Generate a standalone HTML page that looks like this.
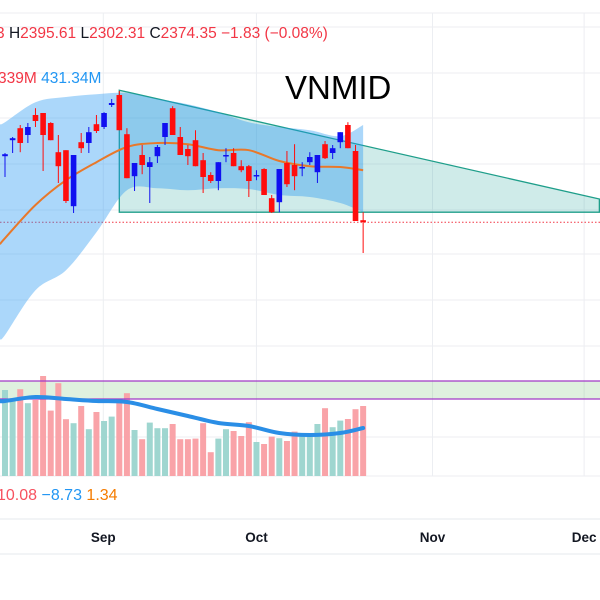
<!DOCTYPE html>
<html><head><meta charset="utf-8">
<style>
html,body{margin:0;padding:0;background:#fff;width:600px;height:600px;overflow:hidden}
svg{display:block}
text{font-family:"Liberation Sans",sans-serif}
</style></head>
<body>
<svg id="chart" width="600" height="600" viewBox="0 0 600 600" xmlns="http://www.w3.org/2000/svg">
<g id="grid"></g>
<g id="triangle"></g>
<g id="bands"></g>
<g id="candles"></g>
<g id="volume"></g>
<text x="-4" y="38" font-size="15.5" fill="#f23645">3 <tspan fill="#131722">H</tspan>2395.61 <tspan fill="#131722">L</tspan>2302.31 <tspan fill="#131722">C</tspan>2374.35 −1.83 (−0.08%)</text>
<text x="-2" y="83" font-size="15.5" fill="#f23645">339M <tspan fill="#2196f3">431.34M</tspan></text>
<text x="285" y="99" font-size="33" fill="#000">VNMID</text>
<text x="-3" y="500" font-size="16" fill="#f7525f">10.08 <tspan fill="#2196f3">−8.73</tspan> <tspan fill="#f57c00">1.34</tspan></text>
<g id="xaxis"></g>
</svg>
<script>
const opens  = [2536,2576,2606,2589,2639,2644,2619,2546,2551,2411,2571,2569,2616,2609,2664,2689,2591,2486,2539,2509,2536,2584,2656,2584,2554,2576,2526,2489,2474,2536,2544,2511,2511,2486,2504,2431,2421,2519,2514,2506,2521,2496,2566,2544,2571,2614,2549,2376];
const highs  = [2544,2584,2614,2619,2656,2644,2621,2589,2551,2539,2594,2609,2639,2646,2679,2699,2606,2519,2564,2534,2564,2619,2661,2609,2564,2601,2544,2496,2521,2556,2556,2526,2514,2501,2506,2439,2504,2549,2566,2521,2546,2539,2574,2564,2596,2621,2564,2396];
const lows   = [2484,2544,2546,2569,2609,2499,2576,2469,2419,2394,2544,2544,2594,2604,2659,2601,2481,2449,2491,2419,2519,2564,2589,2539,2514,2511,2444,2469,2451,2521,2511,2496,2434,2476,2439,2394,2396,2459,2451,2486,2514,2469,2529,2529,2556,2556,2374,2294];
const closes = [2541,2581,2569,2609,2624,2589,2576,2511,2424,2539,2556,2596,2599,2644,2669,2601,2481,2519,2514,2521,2559,2619,2589,2539,2536,2511,2484,2474,2521,2539,2511,2501,2474,2489,2439,2396,2504,2466,2486,2509,2534,2539,2531,2556,2596,2556,2374,2371];
const volumes = [430,389,434,364,380,500,327,464,284,264,350,234,320,275,297,384,414,230,184,267,239,239,260,184,184,187,264,119,187,234,225,200,269,170,160,197,189,175,222,214,214,260,339,244,277,285,334,350];
const bandIdx = [0,4,8,12,16,20,24,28,32,36,40,44,47];
const bbUpper = [2621,2671,2684,2691,2694,2679,2666,2646,2621,2609,2601,2586,2614];
const bbLower = [2089,2201,2251,2346,2451,2456,2451,2456,2454,2439,2434,2419,2396];
const bbBasis = [2331,2414,2476,2521,2559,2569,2566,2551,2551,2524,2511,2509,2501];
const volMA   = [375,395,385,375,370,335,300,265,250,215,205,215,240];
const triTop = [15,2701]; const triRight = [78,2429]; const triBottom = 2396;
const volBandHi = 475, volBandLo = 385;
const timeLabels = ["Sep","Oct","Nov","Dec"];
const timeIdx = [12.9,33,56.1,76];

const NS="http://www.w3.org/2000/svg";
const X = i => 5 + i*7.62;
const Y = p => (2926.5 - p)/2.5;
const VY = v => 476 - v/5;
function mk(tag, attrs, parent){const e=document.createElementNS(NS,tag);for(const k in attrs)e.setAttribute(k,attrs[k]);parent.appendChild(e);return e;}
function smooth(pts){let d="M"+pts[0][0]+","+pts[0][1];for(let i=0;i<pts.length-1;i++){const p0=pts[Math.max(0,i-1)],p1=pts[i],p2=pts[i+1],p3=pts[Math.min(pts.length-1,i+2)];const c1=[p1[0]+(p2[0]-p0[0])/6,p1[1]+(p2[1]-p0[1])/6],c2=[p2[0]-(p3[0]-p1[0])/6,p2[1]-(p3[1]-p1[1])/6];d+=` C${c1[0]},${c1[1]} ${c2[0]},${c2[1]} ${p2[0]},${p2[1]}`;}return d;}

const g=document.getElementById('grid');
[13,27,73,118,164,210,254,300,346,437,476].forEach(y=>{const l=mk('line',{x1:0,x2:600,y1:y,y2:y,stroke:'#eceef2','stroke-width':1},g);});
[519,554].forEach(y=>{const l=mk('line',{x1:0,x2:600,y1:y,y2:y,stroke:'#e6e8ec','stroke-width':1},g);});
timeIdx.forEach(i=>{const l=mk('line',{x1:X(i),x2:X(i),y1:13,y2:476,stroke:'#eceef2','stroke-width':1},g);});

const bg=document.getElementById('bands');
const up=bandIdx.map((i,k)=>[X(i),Y(bbUpper[k])]), lo=bandIdx.map((i,k)=>[X(i),Y(bbLower[k])]);
up.unshift([0,up[0][1]+2]); lo.unshift([0,lo[0][1]+4]);
const loRev=lo.slice().reverse();
const lr=smooth(loRev);
const bf=mk('path',{d:smooth(up)+" L"+loRev[0][0]+","+loRev[0][1]+lr.slice(lr.indexOf(' C'))+"Z",fill:'rgba(33,150,243,0.38)'},bg);

const ma=bandIdx.map((i,k)=>[X(i),Y(bbBasis[k])]); ma.unshift([0,Y(bbBasis[0])+6]);
const mp=mk('path',{d:smooth(ma),fill:'none',stroke:'#e8782a','stroke-width':2},bg);


const tg=document.getElementById('triangle');
const tp=mk('path',{d:`M${X(triTop[0])},${Y(triTop[1])} L${X(triRight[0])},${Y(triRight[1])} L${X(triRight[0])},${Y(triBottom)} L${X(triTop[0])},${Y(triBottom)} Z`,fill:'rgba(38,166,154,0.22)',stroke:'#1e9e8a','stroke-width':1.3},tg);

const last=closes[closes.length-1];
const dl=mk('line',{x1:0,x2:600,y1:Y(last),y2:Y(last),stroke:'#f23645','stroke-width':1,'stroke-dasharray':'1.5,2'},tg);


const cg=document.getElementById('candles');
for(let i=0;i<opens.length;i++){
  const isUp=closes[i]>=opens[i], col=isUp?'#1010f0':'#ff0d0d', x=X(i);
  const w=mk('line',{x1:x,x2:x,y1:Y(highs[i]),y2:Y(lows[i]),stroke:col,'stroke-width':1},cg);
  
  const t=Math.min(Y(opens[i]),Y(closes[i])), h=Math.max(1.5,Math.abs(Y(opens[i])-Y(closes[i])));
  const r=mk('rect',{x:x-2.8,y:t,width:5.6,height:h,fill:col},cg);
  
}

const vg=document.getElementById('volume');
const vb=mk('rect',{x:0,y:VY(volBandHi),width:600,height:VY(volBandLo)-VY(volBandHi),fill:'rgba(76,175,80,0.18)'},vg);

for(let i=0;i<volumes.length;i++){
  const isUp=closes[i]>=opens[i];
  const r=mk('rect',{x:X(i)-3,y:VY(volumes[i]),width:6,height:476-VY(volumes[i]),fill:isUp?'#9fd6d0':'#f9a3a8'},vg);
  
}
[volBandHi,volBandLo].forEach(v=>{const l=mk('line',{x1:0,x2:600,y1:VY(v),y2:VY(v),stroke:'#a23ac8','stroke-width':1.2},vg);});
const vm=bandIdx.map((i,k)=>[X(i),VY(volMA[k])]); vm.unshift([0,VY(volMA[0])]);
const vl=mk('path',{d:smooth(vm),fill:'none',stroke:'#2a8ee6','stroke-width':4,'stroke-linecap':'round'},vg);


const xg=document.getElementById('xaxis');
timeLabels.forEach((s,k)=>{const t=mk('text',{x:X(timeIdx[k]),y:542,'font-size':13.5,'font-weight':'bold',fill:'#131722','text-anchor':'middle'},xg);t.textContent=s;});
</script>
</body></html>
